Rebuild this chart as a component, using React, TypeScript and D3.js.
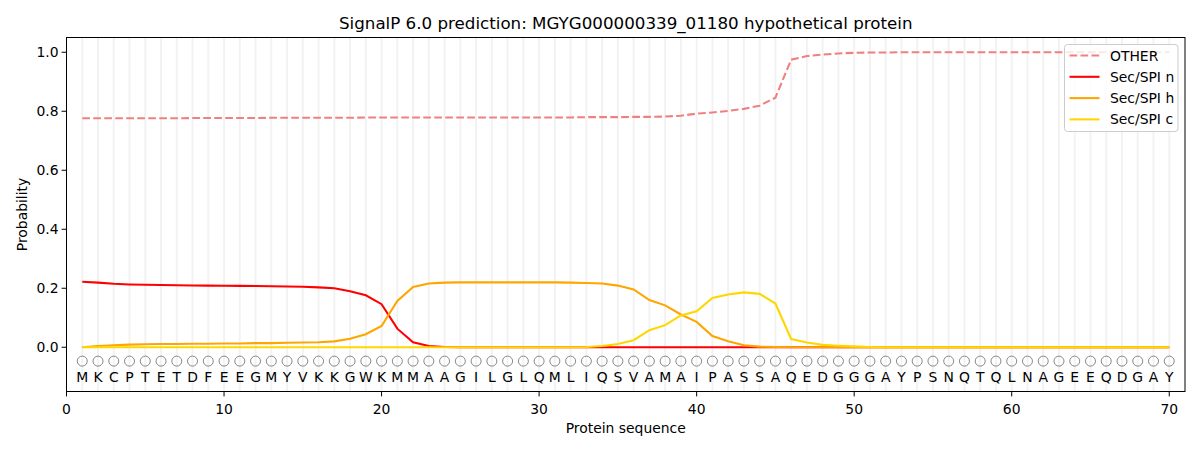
import React from 'react';
import * as d3 from 'd3';

const SEQUENCE = 'MKCPTETDFEEGMYVKKGWKMMAAGILGLQMLIQSVAMAIPASSAQEDGGGAYPSNQTQLNAGEEQDGAY'.split('');

const OTHER = [
  0.776, 0.776, 0.776, 0.776, 0.776, 0.776, 0.776, 0.777, 0.777, 0.777,
  0.777, 0.777, 0.778, 0.778, 0.778, 0.778, 0.778, 0.778, 0.779, 0.779,
  0.779, 0.779, 0.779, 0.779, 0.779, 0.779, 0.779, 0.779, 0.779, 0.779,
  0.779, 0.779, 0.780, 0.780, 0.780, 0.781, 0.781, 0.782, 0.785, 0.792,
  0.796, 0.801, 0.808, 0.819, 0.846, 0.975, 0.987, 0.992, 0.996, 0.998,
  0.999, 0.999, 1.0, 1.0, 1.0, 1.0, 1.0, 1.0, 1.0, 1.0,
  1.0, 1.0, 1.0, 1.0, 1.0, 1.0, 1.0, 1.0, 1.0, 1.0,
];

const SEC_N = [
  0.222, 0.219, 0.215, 0.213, 0.212, 0.211, 0.210, 0.2095, 0.209, 0.2085,
  0.208, 0.2075, 0.207, 0.206, 0.205, 0.203, 0.200, 0.190, 0.176, 0.146,
  0.063, 0.017, 0.004, 0.001, 0, 0, 0, 0, 0, 0,
  0, 0, 0, 0, 0, 0, 0, 0, 0, 0,
  0, 0, 0, 0, 0, 0, 0, 0, 0, 0,
  0, 0, 0, 0, 0, 0, 0, 0, 0, 0,
  0, 0, 0, 0, 0, 0, 0, 0, 0, 0,
];

const SEC_H = [
  0.0, 0.004, 0.007, 0.009, 0.010, 0.011, 0.011, 0.012, 0.012, 0.013,
  0.013, 0.014, 0.014, 0.015, 0.016, 0.017, 0.020, 0.029, 0.044, 0.072,
  0.157, 0.204, 0.216, 0.219, 0.220, 0.220, 0.220, 0.220, 0.220, 0.220,
  0.220, 0.219, 0.218, 0.216, 0.209, 0.196, 0.160, 0.142, 0.111, 0.086,
  0.038, 0.020, 0.007, 0.002, 0.001, 0, 0, 0, 0, 0,
  0, 0, 0, 0, 0, 0, 0, 0, 0, 0,
  0, 0, 0, 0, 0, 0, 0, 0, 0, 0,
];

const SEC_C = [
  0, 0, 0, 0, 0, 0, 0, 0, 0, 0,
  0, 0, 0, 0, 0, 0, 0, 0, 0, 0,
  0, 0, 0, 0, 0, 0, 0, 0, 0, 0,
  0, 0, 0.001, 0.004, 0.011, 0.024, 0.058, 0.075, 0.108, 0.122,
  0.167, 0.179, 0.186, 0.181, 0.148, 0.028, 0.016, 0.008, 0.005, 0.003,
  0.001, 0, 0, 0, 0, 0, 0, 0, 0, 0,
  0, 0, 0, 0, 0, 0, 0, 0, 0, 0,
];

const X_TICKS = [0, 10, 20, 30, 40, 50, 60, 70];
const Y_TICKS = [0, 0.2, 0.4, 0.6, 0.8, 1.0];

const SERIES = [
  { name: 'OTHER', values: OTHER, color: '#f08080', dash: '7.7,3.3' },
  { name: 'Sec/SPI n', values: SEC_N, color: '#ff0000', dash: null },
  { name: 'Sec/SPI h', values: SEC_H, color: '#ffa500', dash: null },
  { name: 'Sec/SPI c', values: SEC_C, color: '#ffd700', dash: null },
];

const W = 1200;
const H = 450;
const M = { left: 66.5, right: 1185, top: 37.5, bottom: 391.5 };
const FONT = 'DejaVu Sans, sans-serif';
const LW = 2.08;

export default function App() {
  const x = d3.scaleLinear().domain([0, 71]).range([M.left, M.right]);
  const y = d3.scaleLinear().domain([-0.15, 1.05]).range([M.bottom, M.top]);
  const line = d3
    .line<number>()
    .x((_, i) => x(i + 1))
    .y((d) => y(d));
  const positions = SEQUENCE.map((_, i) => i + 1);

  return (
    <svg
      width={W}
      height={H}
      style={{ position: 'absolute', left: 0, top: 0, background: '#fff' }}
      fontFamily={FONT}
    >
      {positions.map((p) => (
        <line
          key={'g' + p}
          x1={x(p)}
          x2={x(p)}
          y1={M.top}
          y2={M.bottom}
          stroke="#000"
          strokeOpacity={0.05}
          strokeWidth={2}
        />
      ))}

      {SERIES.map((s) => (
        <path
          key={s.name}
          d={line(s.values) || ''}
          fill="none"
          stroke={s.color}
          strokeWidth={LW}
          strokeDasharray={s.dash || undefined}
        />
      ))}

      {positions.map((p, i) => (
        <g key={'s' + p}>
          <circle cx={x(p)} cy={y(-0.047)} r={5} fill="none" stroke="#888888" strokeWidth={1} />
          <text x={x(p)} y={y(-0.1)} dy="0.36em" textAnchor="middle" fontSize={13.9} fill="#000">
            {SEQUENCE[i]}
          </text>
        </g>
      ))}

      <rect
        x={M.left}
        y={M.top}
        width={M.right - M.left}
        height={M.bottom - M.top}
        fill="none"
        stroke="#000"
        strokeWidth={1}
      />

      {X_TICKS.map((t) => (
        <g key={'xt' + t} transform={`translate(${x(t)},${M.bottom})`}>
          <line y2={4.9} stroke="#000" />
          <text y={17.5} dy="0.36em" textAnchor="middle" fontSize={13.9}>
            {t}
          </text>
        </g>
      ))}
      {Y_TICKS.map((t) => (
        <g key={'yt' + t} transform={`translate(${M.left},${y(t)})`}>
          <line x2={-4.9} stroke="#000" />
          <text x={-8} dy="0.36em" textAnchor="end" fontSize={13.9}>
            {t.toFixed(1)}
          </text>
        </g>
      ))}

      <text x={(M.left + M.right) / 2} y={428} dy="0.36em" textAnchor="middle" fontSize={13.9}>
        Protein sequence
      </text>
      <text
        transform={`translate(22,${(M.top + M.bottom) / 2}) rotate(-90)`}
        dy="0.36em"
        textAnchor="middle"
        fontSize={13.9}
      >
        Probability
      </text>
      <text x={(M.left + M.right) / 2} y={23} dy="0.36em" textAnchor="middle" fontSize={16.7}>
        SignalP 6.0 prediction: MGYG000000339_01180 hypothetical protein
      </text>

      <g transform="translate(1064.5,44.5)">
        <rect width={113.5} height={87} rx={3} fill="#fff" fillOpacity={0.8} stroke="#cccccc" />
        {SERIES.map((s, i) => (
          <g key={'l' + s.name} transform={`translate(0,${11 + i * 21.3})`}>
            <line
              x1={5}
              x2={35}
              stroke={s.color}
              strokeWidth={LW}
              strokeDasharray={s.dash || undefined}
            />
            <text x={45.5} dy="0.36em" fontSize={13.9}>
              {s.name}
            </text>
          </g>
        ))}
      </g>
    </svg>
  );
}
